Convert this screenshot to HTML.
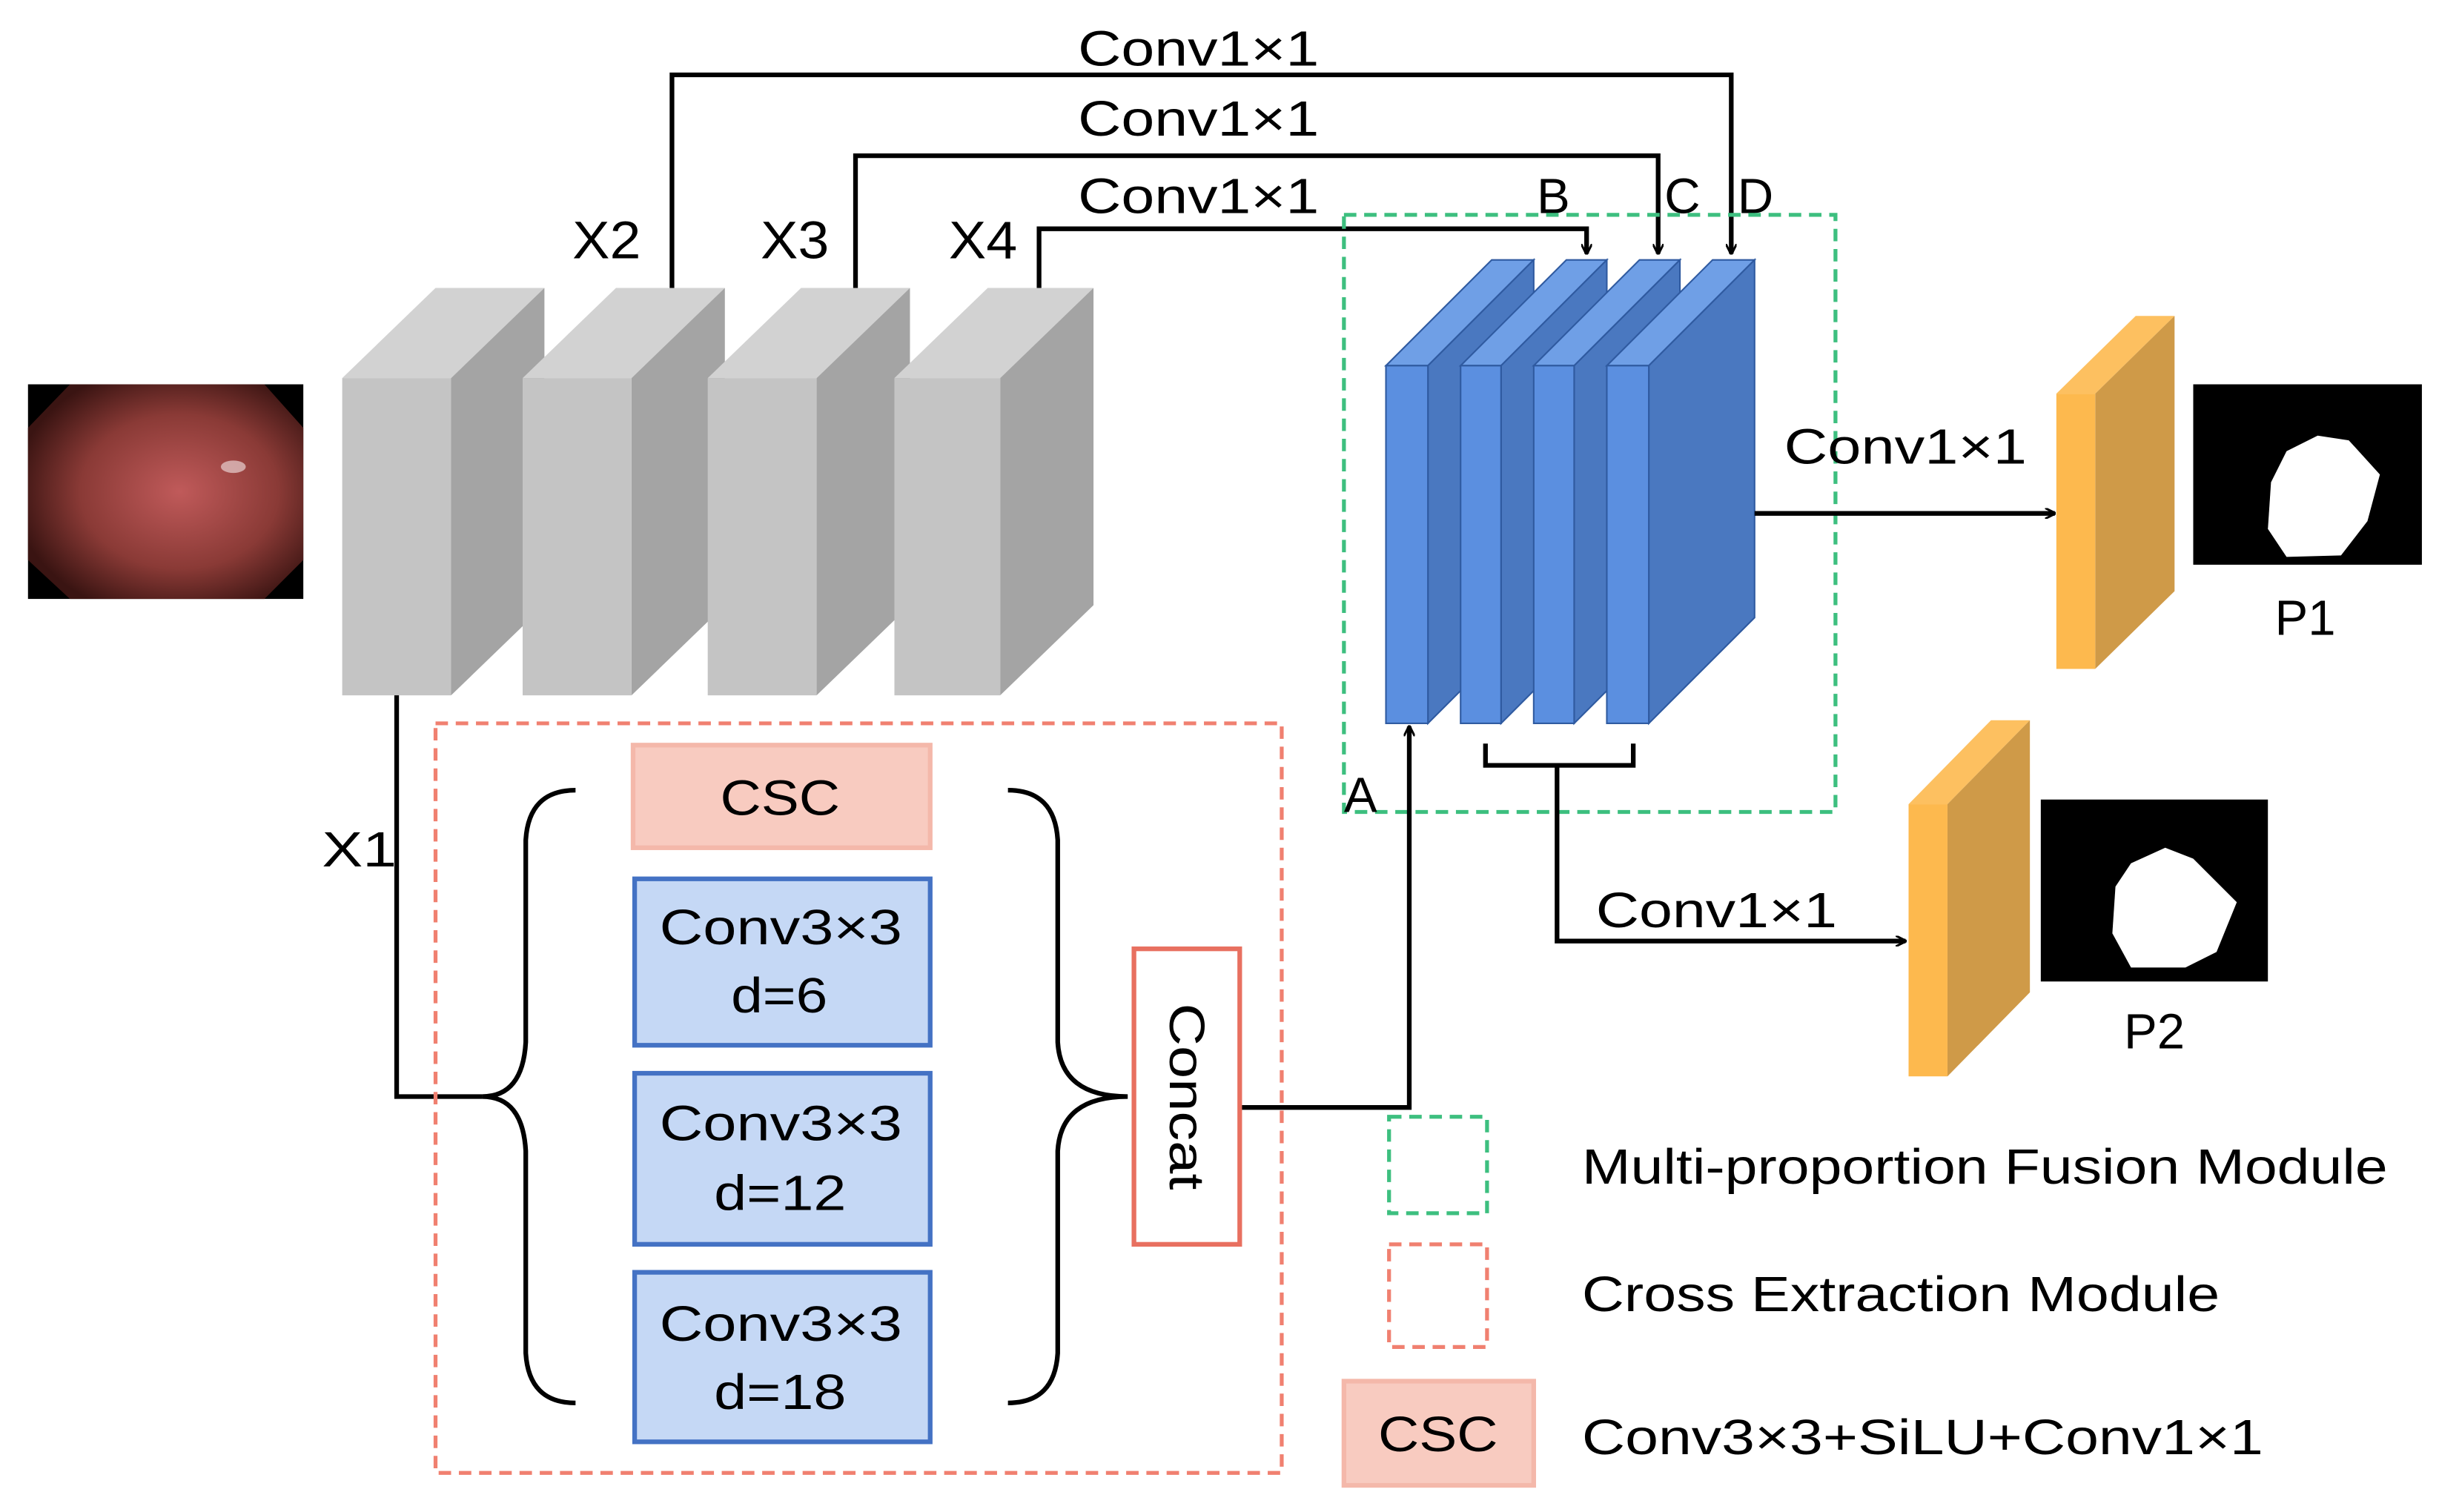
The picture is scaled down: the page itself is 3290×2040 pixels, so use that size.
<!DOCTYPE html>
<html><head><meta charset="utf-8"><style>html,body{margin:0;padding:0;background:#fff}svg{display:block}text{font-family:"Liberation Sans",Arial,sans-serif;fill:#000}</style></head>
<body>
<svg width="3290" height="2040" viewBox="0 0 1568 972" xmlns="http://www.w3.org/2000/svg">
<defs>
<marker id="ar" viewBox="0 0 10 10" refX="9" refY="5" markerWidth="7" markerHeight="7" orient="auto-start-reverse" markerUnits="userSpaceOnUse"><path d="M0,0 L10,5 L0,10" fill="none" stroke="#000" stroke-width="2"/></marker>
<radialGradient id="tis" cx="0.55" cy="0.5" r="0.6"><stop offset="0" stop-color="#c05a5a"/><stop offset="0.6" stop-color="#8a3a36"/><stop offset="1" stop-color="#3a1412"/></radialGradient>
</defs>
<rect x="18" y="247" width="177" height="138" fill="#000"/>
<path d="M45,247 L170,247 L195,275 L195,360 L170,385 L45,385 L18,360 L18,275 Z" fill="url(#tis)"/>
<ellipse cx="150" cy="300" rx="8" ry="4" fill="#e8d0d0" opacity="0.7"/>
<g stroke="none">
<g><polygon points="220,243 290,243 350,185 280,185" fill="#d2d2d2"/><polygon points="290,243 350,185 350,389 290,447" fill="#a4a4a4"/><rect x="220" y="243" width="70" height="204" fill="#c4c4c4"/></g>
<g><polygon points="336,243 406,243 466,185 396,185" fill="#d2d2d2"/><polygon points="406,243 466,185 466,389 406,447" fill="#a4a4a4"/><rect x="336" y="243" width="70" height="204" fill="#c4c4c4"/></g>
<g><polygon points="455,243 525,243 585,185 515,185" fill="#d2d2d2"/><polygon points="525,243 585,185 585,389 525,447" fill="#a4a4a4"/><rect x="455" y="243" width="70" height="204" fill="#c4c4c4"/></g>
<g><polygon points="575,243 643,243 703,185 635,185" fill="#d2d2d2"/><polygon points="643,243 703,185 703,389 643,447" fill="#a4a4a4"/><rect x="575" y="243" width="68" height="204" fill="#c4c4c4"/></g>
</g>
<g font-size="34"><text x="368" y="166" textLength="44" lengthAdjust="spacingAndGlyphs">X2</text><text x="489" y="166" textLength="44" lengthAdjust="spacingAndGlyphs">X3</text><text x="610" y="166" textLength="44" lengthAdjust="spacingAndGlyphs">X4</text></g>
<g fill="none" stroke="#000" stroke-width="3">
<path d="M432,185 V48 H1113 V163" marker-end="url(#ar)"/>
<path d="M550,185 V100 H1066 V163" marker-end="url(#ar)"/>
<path d="M668,185 V147 H1020 V163" marker-end="url(#ar)"/>
</g>
<g font-size="32"><text x="693" y="42" textLength="155" lengthAdjust="spacingAndGlyphs">Conv1×1</text><text x="693" y="87" textLength="155" lengthAdjust="spacingAndGlyphs">Conv1×1</text><text x="693" y="137" textLength="155" lengthAdjust="spacingAndGlyphs">Conv1×1</text></g>
<g font-size="32"><text x="988" y="137">B</text><text x="1070" y="137">C</text><text x="1117" y="137">D</text></g>
<rect x="864" y="138" width="316" height="384" fill="none" stroke="#3dbf7f" stroke-width="2.5" stroke-dasharray="8,5"/>
<g stroke="#2f5aa0" stroke-width="1">
<g><polygon points="891,235 918,235 986,167 959,167" fill="#6f9fe6"/><polygon points="918,235 986,167 986,397 918,465" fill="#4a78c0"/><rect x="891" y="235" width="27" height="230" fill="#5b8fe0"/></g>
<g><polygon points="939,235 965,235 1033,167 1007,167" fill="#6f9fe6"/><polygon points="965,235 1033,167 1033,397 965,465" fill="#4a78c0"/><rect x="939" y="235" width="26" height="230" fill="#5b8fe0"/></g>
<g><polygon points="986,235 1012,235 1080,167 1054,167" fill="#6f9fe6"/><polygon points="1012,235 1080,167 1080,397 1012,465" fill="#4a78c0"/><rect x="986" y="235" width="26" height="230" fill="#5b8fe0"/></g>
<g><polygon points="1033,235 1060,235 1128,167 1101,167" fill="#6f9fe6"/><polygon points="1060,235 1128,167 1128,397 1060,465" fill="#4a78c0"/><rect x="1033" y="235" width="27" height="230" fill="#5b8fe0"/></g>
</g>
<text x="864" y="522" font-size="32">A</text>
<g fill="none" stroke="#000" stroke-width="3">
<path d="M798,712 H906 V467" marker-end="url(#ar)"/>
<path d="M955,478 V492 H1050 V478 M1001,492 V605 H1225" marker-end="url(#ar)"/>
<path d="M1128,330 H1321" marker-end="url(#ar)"/>
<path d="M255,447 V705 H310"/>
</g>
<g font-size="32"><text x="1147" y="298" textLength="156" lengthAdjust="spacingAndGlyphs">Conv1×1</text><text x="1026" y="596" textLength="155" lengthAdjust="spacingAndGlyphs">Conv1×1</text></g>
<g><polygon points="1322,253 1347,253 1398,203 1373,203" fill="#fdc060"/><polygon points="1347,253 1398,203 1398,380 1347,430" fill="#cf9a48"/><rect x="1322" y="253" width="25" height="177" fill="#fdb94e"/></g>
<g><polygon points="1227,517 1252,517 1305,463 1280,463" fill="#fdc060"/><polygon points="1252,517 1305,463 1305,638 1252,692" fill="#cf9a48"/><rect x="1227" y="517" width="25" height="175" fill="#fdb94e"/></g>
<rect x="1410" y="247" width="147" height="116" fill="#000"/>
<path d="M1470,290 L1490,280 L1510,283 L1530,305 L1522,335 L1505,357 L1470,358 L1458,340 L1460,310 Z" fill="#fff"/>
<text x="1482" y="408" font-size="32" text-anchor="middle">P1</text>
<rect x="1312" y="514" width="146" height="117" fill="#000"/>
<path d="M1370,555 L1392,545 L1410,552 L1438,580 L1425,612 L1405,622 L1370,622 L1358,600 L1360,570 Z" fill="#fff"/>
<text x="1385" y="674" font-size="32" text-anchor="middle">P2</text>
<rect x="280" y="465" width="544" height="482" fill="none" stroke="#f08070" stroke-width="2.5" stroke-dasharray="8,5"/>
<text x="207" y="557" font-size="32" textLength="48" lengthAdjust="spacingAndGlyphs">X1</text>
<rect x="407" y="479" width="191" height="66" fill="#f8cbc0" stroke="#f4b8aa" stroke-width="3"/>
<text x="463" y="524" font-size="32" textLength="77" lengthAdjust="spacingAndGlyphs">CSC</text>
<g fill="#c5d8f5" stroke="#4472c4" stroke-width="3">
<rect x="408" y="565" width="190" height="107"/><rect x="408" y="690" width="190" height="110"/><rect x="408" y="818" width="190" height="109"/>
</g>
<g font-size="32">
<text x="424" y="607" textLength="156" lengthAdjust="spacingAndGlyphs">Conv3×3</text><text x="470" y="651" textLength="62" lengthAdjust="spacingAndGlyphs">d=6</text>
<text x="424" y="733" textLength="156" lengthAdjust="spacingAndGlyphs">Conv3×3</text><text x="459" y="778" textLength="85" lengthAdjust="spacingAndGlyphs">d=12</text>
<text x="424" y="862" textLength="156" lengthAdjust="spacingAndGlyphs">Conv3×3</text><text x="459" y="906" textLength="85" lengthAdjust="spacingAndGlyphs">d=18</text>
</g>
<g fill="none" stroke="#000" stroke-width="3">
<path d="M370,508 Q340,508 338,540 L338,670 Q336,705 310,705 Q336,705 338,740 L338,870 Q340,902 370,902"/>
<path d="M648,508 Q678,508 680,540 L680,670 Q682,705 725,705 Q682,705 680,740 L680,870 Q678,902 648,902"/>
</g>
<rect x="729" y="610" width="68" height="190" fill="#fff" stroke="#e87060" stroke-width="3"/>
<text x="-60" y="0" font-size="32" textLength="120" lengthAdjust="spacingAndGlyphs" transform="translate(752,705) rotate(90)">Concat</text>
<rect x="893" y="718" width="63" height="62" fill="none" stroke="#3dbf7f" stroke-width="2.5" stroke-dasharray="8,5"/>
<rect x="893" y="800" width="63" height="66" fill="none" stroke="#f08070" stroke-width="2.5" stroke-dasharray="8,5"/>
<rect x="864" y="888" width="122" height="67" fill="#f8cbc0" stroke="#f4b8aa" stroke-width="3"/>
<text x="886" y="933" font-size="32" textLength="77" lengthAdjust="spacingAndGlyphs">CSC</text>
<g font-size="32"><text x="1017" y="761" textLength="518" lengthAdjust="spacingAndGlyphs">Multi-proportion Fusion Module</text><text x="1017" y="843" textLength="410" lengthAdjust="spacingAndGlyphs">Cross Extraction Module</text><text x="1017" y="935" textLength="438" lengthAdjust="spacingAndGlyphs">Conv3×3+SiLU+Conv1×1</text></g>
</svg>
</body></html>
